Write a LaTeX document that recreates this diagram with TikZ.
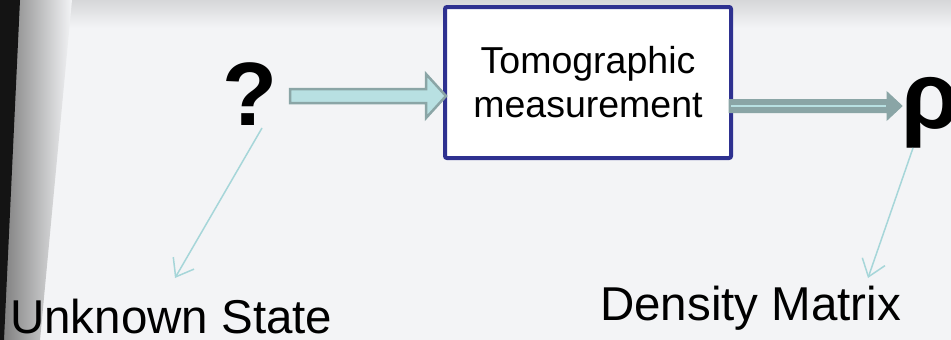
\documentclass[tikz,border=0pt]{standalone}
\usepackage{fontspec}
\setmainfont{Liberation Sans}
\usetikzlibrary{calc,arrows.meta}
\definecolor{bgc}{HTML}{F3F4F6}
\definecolor{topband}{HTML}{D6D7D9}
\definecolor{boxblue}{HTML}{2E3190}
\definecolor{fatfill}{HTML}{B8E0E2}
\definecolor{fatline}{HTML}{8AA5A6}
\definecolor{thinc}{HTML}{A6D6D9}
\tikzset{
  mbox/.style={draw=boxblue, line width=4pt, fill=white, minimum width=286pt, minimum height=151pt,
    rounded corners=2pt, inner sep=0pt, align=center, font=\fontsize{37.5}{44}\selectfont},
  fatarrow/.style={draw=fatline, fill=fatfill, line width=2.5pt, line join=miter},
  outarrow/.style={draw=fatline, fill=fatline, line width=1pt, line join=miter},
  thinarrow/.style={draw=thinc, line width=1.5pt, -{Straight Barb[length=16pt,width=24pt,line width=1.5pt]}},
  lbl/.style={inner sep=0pt, font=\fontsize{47.5}{50}\selectfont}
}
\begin{document}
\begin{tikzpicture}[x=1pt,y=-1pt]
\useasboundingbox (0,0) rectangle (951,340);
% background
\fill[bgc] (0,0) rectangle (951,340);
\shade[top color=topband, bottom color=bgc] (0,0) rectangle (951,28);
\shade[left color=black!50, right color=bgc] (18,0) -- (72,0) -- (40,340) -- (3,340) -- cycle;
\fill[black!92] (0,0) -- (20,0) -- (4,340) -- (0,340) -- cycle;

% nodes
\node[mbox] (box) at (588,82.5) {Tomographic\\measurement};
\node[inner sep=0pt, anchor=base, font=\fontsize{90}{95}\selectfont\bfseries] (q) at (250,125) {?};
\node[inner sep=0pt, anchor=base west, font=\fontsize{95}{100}\selectfont\bfseries] (rho) at (901,128) {ρ};
\node[lbl, anchor=base west] (unk) at (10,333) {Unknown State};
\node[lbl, anchor=base west] (dens) at (600,320) {Density Matrix};

% fat input arrow
\coordinate (lt) at (290,96);
\path let \p1=(lt), \p2=($(box.west|-lt)+(3,0)$) in
  [fatarrow] (\x1,\y1+7pt) -- (\x2-20pt,\y1+7pt) -- (\x2-20pt,\y1+22pt) -- (\x2,\y1)
  -- (\x2-20pt,\y1-22pt) -- (\x2-20pt,\y1-7pt) -- (\x1,\y1-7pt) -- cycle;

% output arrow
\coordinate (rt) at (902,106);
\path let \p1=($(box.east|-rt)+(-4,0)$), \p2=(rt) in
  [outarrow] (\x1,\y1+6.5pt) -- (\x2-15pt,\y1+6.5pt) -- (\x2-15pt,\y1+14pt) -- (\x2,\y1)
  -- (\x2-15pt,\y1-14pt) -- (\x2-15pt,\y1-6.5pt) -- (\x1,\y1-6.5pt) -- cycle;
\path let \p1=($(box.east|-rt)+(-2,0)$), \p2=(rt) in
  [draw=fatfill, line width=2pt] (\x1,\y1+0.5pt) -- (\x2-16pt,\y1+0.5pt);

% thin annotation arrows
\coordinate (qs) at (262,128);
\coordinate (qe) at (175,278);
\draw[thinarrow] (qs) -- (qe);
\coordinate (rs) at (913,148);
\coordinate (re) at (868,278);
\draw[thinarrow] (rs) -- (re);
\end{tikzpicture}
\end{document}
